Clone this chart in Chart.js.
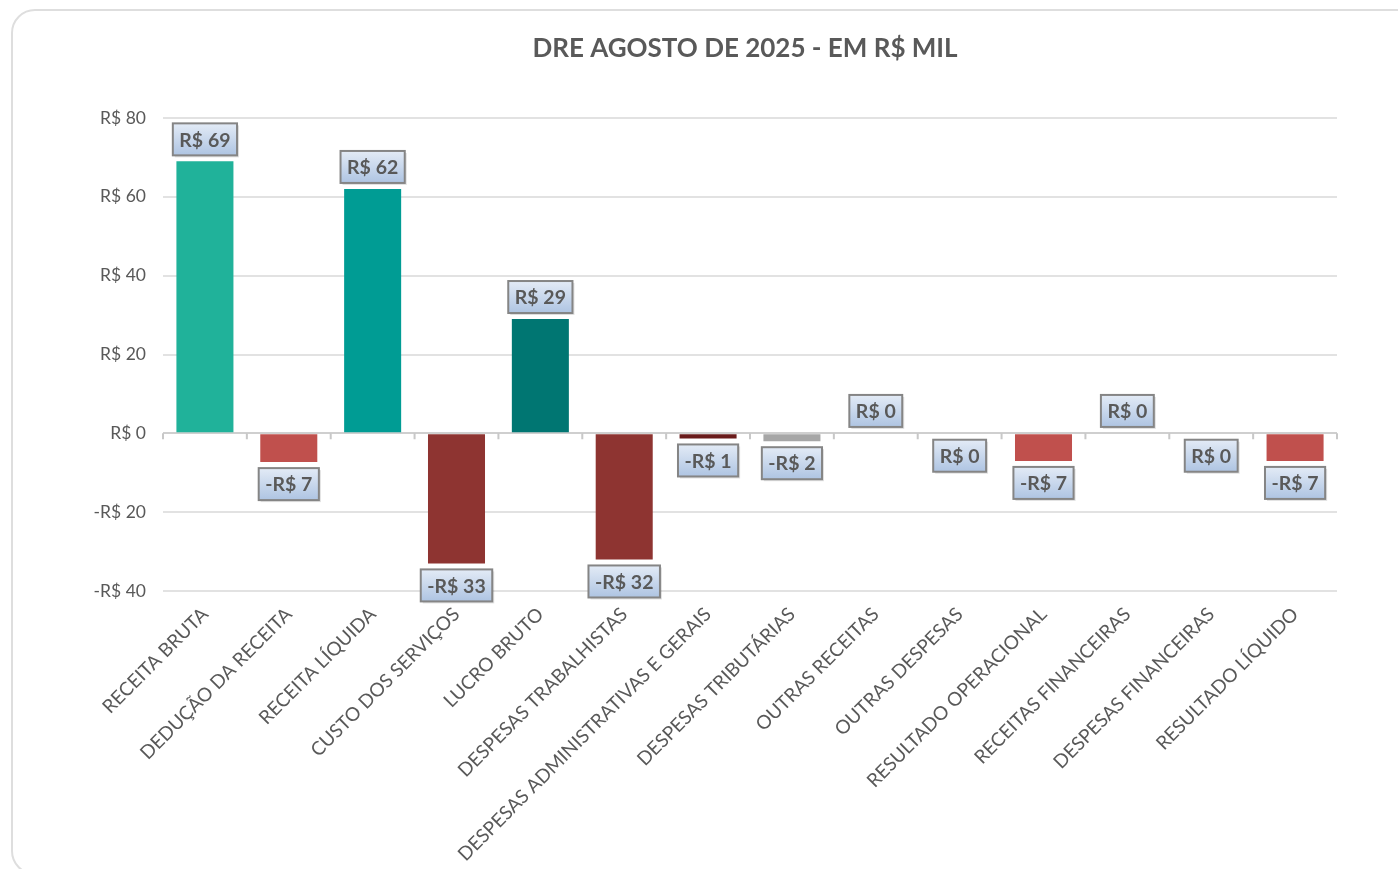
<!DOCTYPE html>
<html lang="pt-BR">
<head>
<meta charset="utf-8">
<title>DRE Agosto de 2025</title>
<script src="https://cdn.jsdelivr.net/npm/chart.js@4.4.1/dist/chart.umd.min.js"></script>
<style>
  html, body { margin: 0; padding: 0; background: #fff; overflow: hidden; }
  body { width: 1398px; height: 869px; position: relative; }
  .card {
    position: absolute; left: 11px; top: 9px;
    width: 1440px; height: 866px;
    border: 2px solid #dedede; border-radius: 24px;
    box-sizing: border-box;
  }
  .wrap { position: absolute; left: 0; top: 0; width: 1490px; height: 869px; }
</style>
</head>
<body>
<div class="card"></div>
<div class="wrap"><canvas id="dreChart" width="1490" height="869"></canvas></div>
<script>
// categorias e valores (R$ mil)
const categorias = [
  'RECEITA BRUTA', 'DEDUÇÃO DA RECEITA', 'RECEITA LÍQUIDA', 'CUSTO DOS SERVIÇOS',
  'LUCRO BRUTO', 'DESPESAS TRABALHISTAS', 'DESPESAS ADMINISTRATIVAS E GERAIS',
  'DESPESAS TRIBUTÁRIAS', 'OUTRAS RECEITAS', 'OUTRAS DESPESAS', 'RESULTADO OPERACIONAL',
  'RECEITAS FINANCEIRAS', 'DESPESAS FINANCEIRAS', 'RESULTADO LÍQUIDO'
];
const valores = [69, -7.3, 62, -33, 29, -32, -1.3, -2, 0.1, -0.1, -7, 0.1, -0.1, -7];
const cores = [
  '#20b29a', '#c0504d', '#009c94', '#8e3431', '#007672', '#8e3431', '#6a1c1c',
  '#a6a6a6', 'rgba(0,0,0,0)', 'rgba(0,0,0,0)', '#c0504d', 'rgba(0,0,0,0)', 'rgba(0,0,0,0)', '#c0504d'
];
const ticksY = [-40, -20, 0, 20, 40, 60, 80];
const titulo = 'DRE AGOSTO DE 2025 - EM R$ MIL';

const FONTE = 'Lato, "Open Sans", sans-serif';
const CINZA = '#595959';

function formatarBRL(v) {
  const r = Math.round(v);
  if (r < 0) return '-R$ ' + Math.abs(r);
  return 'R$ ' + Math.abs(r);
}

// título centralizado no cartão
const tituloPlugin = {
  id: 'tituloCartao',
  afterDraw(chart) {
    const ctx = chart.ctx;
    ctx.save();
    ctx.font = 'bold 26px ' + FONTE;
    ctx.fillStyle = CINZA;
    ctx.textAlign = 'center';
    ctx.textBaseline = 'middle';
    ctx.fillText(titulo, chart.width / 2, 49);
    ctx.restore();
  }
};

// rótulos de dados em caixinhas com gradiente
const rotulosPlugin = {
  id: 'rotulos',
  afterDatasetsDraw(chart) {
    const ctx = chart.ctx;
    const meta = chart.getDatasetMeta(0);
    ctx.save();
    ctx.font = 'bold 19.5px ' + FONTE;
    ctx.textAlign = 'center';
    ctx.textBaseline = 'middle';
    meta.data.forEach((bar, i) => {
      const v = valores[i];
      const txt = formatarBRL(v);
      const w = ctx.measureText(txt).width + 13;
      const h = 32;
      const gap = 6;
      const x = bar.x - w / 2;
      const y = v >= 0 ? bar.y - gap - h : bar.y + gap;
      // sombra leve
      ctx.fillStyle = 'rgba(0,0,0,0.12)';
      ctx.fillRect(x + 2, y + 2, w, h);
      const g = ctx.createLinearGradient(0, y, 0, y + h);
      g.addColorStop(0, '#e3ebf6');
      g.addColorStop(1, '#aec4e2');
      ctx.fillStyle = g;
      ctx.fillRect(x, y, w, h);
      ctx.lineWidth = 2;
      ctx.strokeStyle = '#858585';
      ctx.strokeRect(x, y, w, h);
      ctx.fillStyle = CINZA;
      ctx.fillText(txt, bar.x, y + h / 2 + 1);
    });
    ctx.restore();
  }
};

// marcas do eixo de categorias sobre a linha do zero
const marcasZeroPlugin = {
  id: 'marcasZero',
  beforeDatasetsDraw(chart) {
    const ctx = chart.ctx;
    const xs = chart.scales.x;
    const y0 = chart.scales.y.getPixelForValue(0);
    const passo = xs.getPixelForValue(1) - xs.getPixelForValue(0);
    ctx.save();
    ctx.strokeStyle = '#c8c8c8';
    ctx.lineWidth = 2;
    ctx.beginPath();
    for (let i = 0; i <= categorias.length; i++) {
      const px = xs.getPixelForValue(0) - passo / 2 + i * passo;
      ctx.moveTo(px, y0);
      ctx.lineTo(px, y0 + 6);
    }
    ctx.stroke();
    ctx.restore();
  }
};

new Chart(document.getElementById('dreChart'), {
  type: 'bar',
  data: {
    labels: categorias,
    datasets: [{
      data: valores,
      backgroundColor: cores,
      borderWidth: 0,
      barPercentage: 0.68,
      categoryPercentage: 1
    }]
  },
  options: {
    responsive: false,
    animation: false,
    layout: { padding: { left: 0, right: 153, top: 118, bottom: 0 } },
    plugins: {
      legend: { display: false },
      tooltip: { enabled: false },
      title: { display: false }
    },
    scales: {
      x: {
        grid: { display: false },
        border: { display: false },
        afterFit(scale) { scale.height = 278; },
        ticks: {
          color: CINZA,
          font: { family: FONTE, size: 19 },
          minRotation: 45,
          maxRotation: 45,
          autoSkip: false,
          padding: 4
        }
      },
      y: {
        min: -40,
        max: 80,
        afterFit(scale) { scale.width = 163; },
        afterBuildTicks(scale) { scale.ticks = ticksY.map(v => ({ value: v })); },
        border: { display: false },
        grid: {
          drawTicks: false,
          lineWidth: 2,
          color: ctx => ctx.tick && ctx.tick.value === 0 ? '#cfcfcf' : '#e2e2e2'
        },
        ticks: {
          color: CINZA,
          font: { family: FONTE, size: 17.5 },
          padding: 17,
          callback: v => formatarBRL(v)
        }
      }
    }
  },
  plugins: [marcasZeroPlugin, rotulosPlugin, tituloPlugin]
});
</script>
</body>
</html>
